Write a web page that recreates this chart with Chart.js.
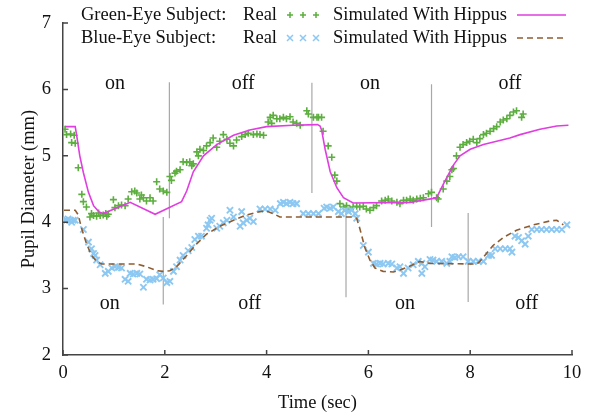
<!DOCTYPE html>
<html><head><meta charset="utf-8">
<script src="https://cdn.jsdelivr.net/npm/chart.js@4.4.0/dist/chart.umd.min.js"></script>
<style>html,body{margin:0;padding:0;background:#fff;}canvas{display:block;}</style>
</head><body>
<canvas id="c" width="597" height="418"></canvas>
<script>
// ---- data (time in sec, pupil diameter in mm) ----
const greenRealT = [0.04,0.07,0.15,0.22,0.17,0.24,0.30,0.37,0.40,0.46,0.53,0.60,0.66,0.73,0.79,0.86,0.89,0.99,1.02,1.09,1.15,1.22,1.28,1.35,1.41,1.45,1.51,1.54,1.58,1.64,1.71,1.77,1.84,1.90,1.97,2.04,2.10,2.13,2.20,2.23,2.30,2.36,2.43,2.49,2.53,2.56,2.63,2.66,2.69,2.76,2.82,2.89,2.95,3.02,3.08,3.15,3.22,3.28,3.35,3.41,3.51,3.58,3.64,3.74,3.81,3.87,3.94,4.03,4.07,4.10,4.13,4.20,4.26,4.33,4.39,4.46,4.52,4.59,4.66,4.79,4.82,4.92,4.99,5.02,5.08,5.11,5.21,5.28,5.34,5.38,5.44,5.51,5.57,5.64,5.70,5.77,5.83,5.90,5.96,6.03,6.10,6.16,6.26,6.33,6.39,6.46,6.56,6.62,6.69,6.75,6.82,6.88,6.95,7.02,7.08,7.18,7.24,7.34,7.37,7.47,7.54,7.60,7.64,7.67,7.73,7.80,7.86,7.93,7.99,8.06,8.13,8.19,8.26,8.32,8.39,8.46,8.52,8.59,8.65,8.72,8.78,8.85,8.91,9.01,9.04,0.56,0.70,0.84];
const greenRealV = [5.40,5.32,5.33,5.31,5.20,5.19,4.82,4.42,4.31,4.23,4.08,4.10,4.09,4.10,4.11,4.09,4.12,4.34,4.22,4.25,4.26,4.25,4.35,4.46,4.47,4.44,4.35,4.41,4.37,4.32,4.37,4.32,4.61,4.50,4.47,4.45,4.69,4.63,4.74,4.77,4.79,4.91,4.90,4.91,4.85,4.88,5.06,5.00,5.10,5.08,5.15,5.20,5.27,5.13,5.22,5.32,5.25,5.19,5.15,5.24,5.29,5.32,5.34,5.32,5.33,5.32,5.31,5.51,5.58,5.49,5.61,5.56,5.56,5.58,5.56,5.59,5.51,5.49,5.46,5.68,5.63,5.58,5.58,5.58,5.58,5.37,5.15,4.98,4.71,4.62,4.28,4.23,4.25,4.20,4.23,4.24,4.23,4.24,4.20,4.18,4.22,4.25,4.32,4.33,4.35,4.32,4.30,4.28,4.33,4.33,4.35,4.33,4.35,4.36,4.37,4.43,4.45,4.37,4.35,4.50,4.62,4.69,4.79,4.81,5.00,5.13,5.17,5.20,5.22,5.25,5.20,5.26,5.32,5.34,5.37,5.41,5.44,5.51,5.54,5.56,5.61,5.66,5.68,5.58,5.63,4.13,4.14,4.13];

const blueRealT = [0.03,0.07,0.10,0.14,0.17,0.20,0.24,0.40,0.50,0.56,0.60,0.63,0.66,0.73,0.83,0.89,0.96,1.02,1.09,1.15,1.22,1.28,1.32,1.38,1.45,1.51,1.58,1.64,1.71,1.77,1.84,1.90,1.97,2.04,2.10,2.17,2.23,2.30,2.36,2.46,2.53,2.59,2.66,2.72,2.82,2.85,2.89,2.92,3.02,3.08,3.15,3.22,3.28,3.35,3.48,3.51,3.54,3.61,3.67,3.74,3.87,3.97,4.07,4.17,4.27,4.33,4.39,4.46,4.52,4.59,4.72,4.82,4.92,5.02,5.13,5.18,5.25,5.31,5.41,5.47,5.54,5.61,5.67,5.74,5.77,5.90,6.00,6.10,6.16,6.23,6.29,6.39,6.46,6.56,6.62,6.69,6.78,6.88,6.98,7.05,7.05,7.11,7.21,7.27,7.34,7.44,7.54,7.60,7.64,7.70,7.77,7.86,7.96,8.06,8.16,8.26,8.36,8.42,8.49,8.59,8.69,8.78,8.82,8.88,8.95,9.01,9.08,9.14,9.21,9.31,9.40,9.50,9.60,9.70,9.80,9.90];
const blueRealV = [4.03,4.03,4.05,4.03,4.00,4.03,4.03,3.89,3.70,3.60,3.53,3.50,3.43,3.36,3.23,3.26,3.31,3.33,3.32,3.31,3.14,3.11,3.23,3.22,3.23,3.22,3.02,3.14,3.13,3.14,3.15,3.21,3.16,3.09,3.11,3.26,3.33,3.43,3.50,3.57,3.62,3.74,3.79,3.79,3.91,3.96,4.03,4.06,3.91,3.94,3.99,4.03,4.18,4.08,3.94,4.16,3.99,4.03,4.06,4.01,4.20,4.20,4.20,4.18,4.28,4.30,4.28,4.30,4.28,4.28,4.13,4.13,4.13,4.13,4.21,4.23,4.21,4.23,4.16,4.13,4.18,4.16,4.18,4.13,4.06,3.65,3.55,3.38,3.37,3.38,3.37,3.38,3.37,3.31,3.33,3.23,3.31,3.36,3.41,3.23,3.38,3.33,3.44,3.43,3.41,3.41,3.38,3.41,3.48,3.47,3.48,3.48,3.41,3.41,3.41,3.41,3.50,3.50,3.60,3.60,3.60,3.60,3.55,3.79,3.77,3.72,3.67,3.79,3.89,3.89,3.89,3.89,3.89,3.89,3.89,3.96];

const greenSimT = [0.04,0.24,0.27,0.33,0.40,0.50,0.60,0.70,0.79,1.32,1.81,2.33,2.43,2.56,2.76,3.02,3.35,3.67,4.00,4.52,5.00,5.05,5.08,5.15,5.25,5.38,5.51,5.70,6.82,7.28,7.34,7.47,7.67,7.80,8.00,8.26,8.78,8.98,9.37,9.70,9.93];
const greenSimV = [5.44,5.44,5.30,5.00,4.75,4.45,4.25,4.16,4.13,4.30,4.12,4.31,4.47,4.76,5.00,5.17,5.31,5.39,5.44,5.46,5.47,5.45,5.39,5.10,4.76,4.52,4.37,4.29,4.30,4.36,4.37,4.57,4.86,5.00,5.10,5.17,5.27,5.32,5.40,5.45,5.46];

const blueSimT = [0.02,0.24,0.30,0.36,0.46,0.56,0.66,0.76,1.45,1.64,1.84,1.97,2.10,2.23,2.43,2.62,2.82,3.08,3.35,3.61,3.87,4.00,4.13,4.26,5.70,5.77,5.83,5.93,6.03,6.13,6.29,6.49,6.62,6.82,7.01,7.21,8.13,8.19,8.32,8.45,8.65,8.91,9.24,9.57,9.70,9.83];
const blueSimV = [4.18,4.18,4.11,3.92,3.68,3.50,3.41,3.37,3.37,3.33,3.27,3.26,3.27,3.33,3.50,3.67,3.82,3.94,4.03,4.11,4.16,4.17,4.13,4.08,4.08,4.06,3.91,3.62,3.43,3.31,3.26,3.25,3.28,3.34,3.41,3.38,3.37,3.41,3.53,3.65,3.77,3.88,3.96,4.02,4.03,3.96];

// light switch markers (vertical segments)
const switchT      = [2.09, 4.89, 7.24, 1.97, 5.56, 7.96];
const switchTop    = [6.11, 6.10, 6.08, 4.08, 4.18, 4.14];
const switchBottom = [4.06, 4.44, 3.93, 2.76, 2.87, 2.80];

// phase labels
const phaseText = ['on','off','on','off','on','off','on','off'];
const phaseT    = [1.02, 3.54, 6.03, 8.78, 0.92, 3.67, 6.72, 9.11];
const phaseV    = [6.09, 6.09, 6.09, 6.09, 2.77, 2.77, 2.77, 2.77];

const xTicks = [0, 2, 4, 6, 8, 10];
const yTicks = [2, 3, 4, 5, 6, 7];

// ---- build ----
const pts = (T, V) => T.map((t, i) => ({x: t, y: V[i]}));
const switchPts = [];
switchT.forEach((t, i) => {
  switchPts.push({x: t, y: switchTop[i]});
  switchPts.push({x: t, y: switchBottom[i]});
  switchPts.push({x: t, y: null});
});

const SERIF = '"Liberation Serif", "Times New Roman", serif';
const GREEN = '#5cae3e', BLUE = '#8cc8f2', MAGENTA = '#e03ee0', BROWN = '#8e5c30';

const overlay = {
  id: 'overlay',
  afterDraw(chart) {
    const {ctx, chartArea: a, scales: {x, y}} = chart;
    ctx.save();
    // inward tick marks
    ctx.strokeStyle = '#444'; ctx.lineWidth = 1.5;
    ctx.beginPath();
    xTicks.forEach(t => { const px = x.getPixelForValue(t); ctx.moveTo(px, a.bottom); ctx.lineTo(px, a.bottom - 5); });
    yTicks.forEach(v => { const py = y.getPixelForValue(v); ctx.moveTo(a.left, py); ctx.lineTo(a.left + 5, py); });
    ctx.stroke();
    // phase labels
    ctx.fillStyle = '#111';
    ctx.font = '20px ' + SERIF;
    ctx.textAlign = 'center'; ctx.textBaseline = 'middle';
    phaseText.forEach((s, i) => ctx.fillText(s, x.getPixelForValue(phaseT[i]), y.getPixelForValue(phaseV[i])));
    // legend
    ctx.font = '18.5px ' + SERIF;
    const rows = [
      {name: 'Green-Eye Subject:', y: 15, color: GREEN, mark: 'plus', line: MAGENTA, dash: []},
      {name: 'Blue-Eye Subject:', y: 38, color: BLUE, mark: 'x', line: BROWN, dash: [6, 4]}
    ];
    rows.forEach(r => {
      ctx.fillStyle = '#111';
      ctx.textAlign = 'left'; ctx.fillText(r.name, 81, r.y);
      ctx.textAlign = 'right'; ctx.fillText('Real', 277, r.y);
      ctx.fillText('Simulated With Hippus', 507, r.y);
      ctx.strokeStyle = r.color; ctx.lineWidth = 1.5;
      [290, 303, 316].forEach(mx => {
        ctx.beginPath();
        if (r.mark === 'plus') { ctx.moveTo(mx - 3, r.y); ctx.lineTo(mx + 3, r.y); ctx.moveTo(mx, r.y - 3); ctx.lineTo(mx, r.y + 3); }
        else { ctx.moveTo(mx - 3, r.y - 3); ctx.lineTo(mx + 3, r.y + 3); ctx.moveTo(mx - 3, r.y + 3); ctx.lineTo(mx + 3, r.y - 3); }
        ctx.stroke();
      });
      ctx.strokeStyle = r.line; ctx.lineWidth = 1.6; ctx.setLineDash(r.dash);
      ctx.beginPath(); ctx.moveTo(517, r.y); ctx.lineTo(566, r.y); ctx.stroke();
      ctx.setLineDash([]);
    });
    ctx.restore();
  }
};

new Chart(document.getElementById('c'), {
  type: 'scatter',
  data: {
    datasets: [
      {label: 'switch', data: switchPts, showLine: true, spanGaps: false, borderColor: '#a8a8a8', borderWidth: 1.2, pointRadius: 0, order: 6},
      {label: 'Green-Eye Subject: Real', data: pts(greenRealT, greenRealV), pointStyle: 'cross', pointRadius: 3.5, borderColor: GREEN, backgroundColor: GREEN, pointBorderWidth: 1.6, order: 5},
      {label: 'Green-Eye Simulated With Hippus', data: pts(greenSimT, greenSimV), showLine: true, borderColor: MAGENTA, borderWidth: 1.6, pointRadius: 0, tension: 0, order: 4},
      {label: 'Blue-Eye Subject: Real', data: pts(blueRealT, blueRealV), pointStyle: 'crossRot', pointRadius: 4.4, borderColor: BLUE, backgroundColor: BLUE, pointBorderWidth: 1.9, order: 3},
      {label: 'Blue-Eye Simulated With Hippus', data: pts(blueSimT, blueSimV), showLine: true, borderColor: BROWN, borderWidth: 1.6, borderDash: [6, 4], pointRadius: 0, tension: 0, order: 2}
    ]
  },
  options: {
    responsive: false, animation: false, devicePixelRatio: 1,
    layout: {padding: {top: 11, right: 25, left: 0, bottom: 0}},
    plugins: {legend: {display: false}, tooltip: {enabled: false}},
    scales: {
      x: {
        type: 'linear', min: 0, max: 10,
        afterFit(s) { s.height = 63; },
        grid: {display: false, drawTicks: false},
        border: {display: true, color: '#444', width: 1.5},
        ticks: {stepSize: 2, padding: 7, color: '#111', font: {family: SERIF, size: 18.5}},
        title: {display: true, text: 'Time (sec)', color: '#111', font: {family: SERIF, size: 18.5}, padding: {top: 0, bottom: 4}}
      },
      y: {
        type: 'linear', min: 2, max: 7,
        afterFit(s) { s.width = 63; },
        grid: {display: false, drawTicks: false},
        border: {display: true, color: '#444', width: 1.5},
        ticks: {stepSize: 1, padding: 12, color: '#111', font: {family: SERIF, size: 18.5}},
        title: {display: true, text: 'Pupil Diameter (mm)', color: '#111', font: {family: SERIF, size: 18.5}, padding: {top: 18, bottom: 0}}
      }
    }
  },
  plugins: [overlay]
});
</script>
</body></html>
